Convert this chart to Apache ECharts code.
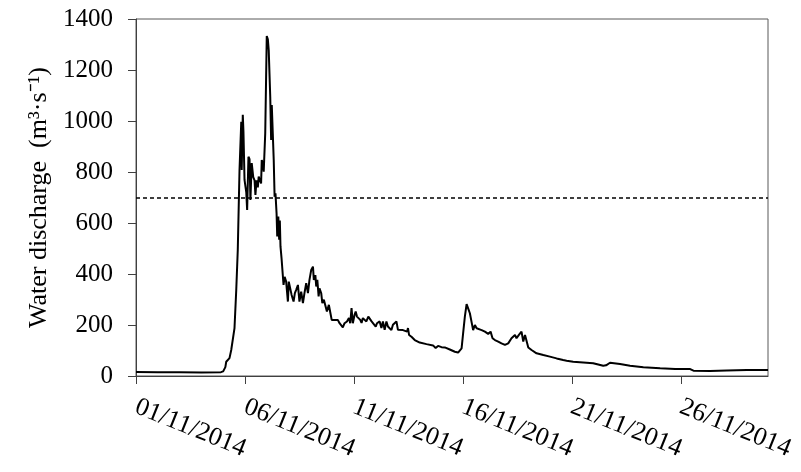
<!DOCTYPE html>
<html>
<head>
<meta charset="utf-8">
<script src="https://cdn.jsdelivr.net/npm/echarts@6/dist/echarts.min.js"></script>
<style>
  html, body { margin: 0; padding: 0; background: #fff; }
  #chart { width: 801px; height: 472px; }
</style>
</head>
<body>
<div id="chart"></div>
<script>
// Time in days since 01/11/2014 00:00
const dayOffsets = [
  0, 1, 2, 3, 3.9, 4.0, 4.1, 4.14, 4.29, 4.37, 4.52, 4.6, 4.67, 4.75, 4.83, 4.85, 4.9, 4.93, 4.98,
  5.06, 5.1, 5.16, 5.21, 5.25, 5.31, 5.38, 5.44, 5.48, 5.53, 5.59, 5.63, 5.71, 5.74, 5.77, 5.82, 5.86, 5.93,
  6.0, 6.05, 6.09, 6.16, 6.2, 6.23, 6.28, 6.32, 6.36, 6.4, 6.45, 6.48, 6.53, 6.57, 6.6, 6.63, 6.68, 6.77, 6.82, 6.89, 6.97,
  7.01, 7.08, 7.14, 7.23, 7.29, 7.35, 7.43, 7.5, 7.58, 7.66, 7.73, 7.81, 7.89, 7.96,
  8.04, 8.12, 8.16, 8.23, 8.27, 8.32, 8.38, 8.42, 8.5, 8.55, 8.62, 8.7, 8.76, 8.85, 8.92, 8.98,
  9.11, 9.19, 9.26, 9.34, 9.42, 9.49, 9.57, 9.68, 9.77, 9.83, 9.89, 9.95,
  10.03, 10.08, 10.14, 10.23, 10.29, 10.35, 10.41, 10.49, 10.57, 10.66, 10.75, 10.81, 10.9,
  11.0, 11.06, 11.18, 11.26, 11.33, 11.41, 11.49, 11.56, 11.64, 11.72, 11.79, 11.87, 11.95,
  12.02, 12.1, 12.25, 12.33, 12.44, 12.48, 12.53, 12.64, 12.79,
  13.02, 13.33, 13.63, 13.7, 13.75, 13.86, 14.02, 14.17, 14.4, 14.63, 14.78, 14.86, 14.94,
  15.01, 15.09, 15.17, 15.24, 15.32, 15.39, 15.47, 15.55, 15.63, 15.7, 15.86,
  16.01, 16.16, 16.27, 16.36, 16.47, 16.62, 16.77, 16.93,
  17.08, 17.23, 17.39, 17.46, 17.57, 17.69, 17.77, 17.85, 17.92,
  18.0, 18.15, 18.38, 18.69, 18.99, 19.3, 19.6, 19.76,
  20.06, 20.37, 20.98, 21.44, 21.57, 21.75, 22.21, 22.67, 23.28, 24.05, 24.74,
  25.43, 25.52, 25.58, 26.34, 27.11, 28.03, 29.0
];

// Water discharge (m3/s)
const discharge = [
  16, 15, 15, 14, 15, 18, 35, 56, 70, 102, 188, 337, 494, 808, 997, 808, 1024, 960, 769,
  720, 651, 860, 850, 690, 835, 780, 767, 710, 767, 740, 782, 782, 755, 847, 835, 801, 952,
  1333, 1320, 1278, 1095, 926, 1063, 1057, 847, 703, 716, 638, 547, 625, 534, 610, 508, 460, 357, 389, 370, 292,
  370, 377, 318, 292, 325, 338, 357, 292, 331, 286, 325, 364, 325, 377,
  416, 429, 377, 396, 351, 377, 312, 344, 324, 286, 299, 299, 253, 279, 247, 220,
  220, 214, 220, 207, 200, 191, 207, 214, 227, 207, 266, 207,
  240, 253, 233, 240, 220, 208, 227, 220, 214, 233, 227, 214, 207,
  194, 207, 214, 188, 214, 181, 214, 194, 201, 180, 201, 194, 214,
  181, 188, 180, 174, 174, 188, 161, 154, 141,
  131, 125, 120, 125, 110, 118, 113, 112, 104, 95, 92, 94, 108,
  167, 233, 282, 265, 246, 240, 180, 200, 187, 193, 180,
  174, 165, 174, 148, 141, 135, 128, 122,
  128, 148, 161, 148, 161, 174, 135, 161, 155,
  112, 102, 89, 82, 76, 69, 63, 60,
  56, 54, 50, 40, 42, 52, 47, 40, 34, 30, 27,
  27, 27, 21, 20, 22, 24, 24
];

const dateLabels = ['01/11/2014', '06/11/2014', '11/11/2014', '16/11/2014', '21/11/2014', '26/11/2014'];
const yTicks = [0, 200, 400, 600, 800, 1000, 1200, 1400];
const threshold = 700;

const seriesData = dayOffsets.map((d, i) => [d, discharge[i]]);

const FONT = '"Liberation Serif", "Times New Roman", serif';
const chart = echarts.init(document.getElementById('chart'), null, { renderer: 'canvas' });

chart.setOption({
  animation: false,
  backgroundColor: '#fff',
  grid: {
    left: 136, right: 33, top: 19, bottom: 96,
    show: true, borderColor: '#595959', borderWidth: 1,
    containLabel: false, outerBoundsMode: 'none'
  },
  xAxis: {
    type: 'value',
    min: 0, max: 29, interval: 5,
    splitLine: { show: false },
    axisLine: { lineStyle: { color: '#404040', width: 1 } },
    axisTick: { length: 8, lineStyle: { color: '#404040' } },
    axisLabel: {
      rotate: -22,
      margin: 30,
      color: '#000',
      fontFamily: FONT,
      fontSize: 26,
      showMaxLabel: false,
      formatter: v => (v % 5 === 0 && dateLabels[v / 5]) ? dateLabels[v / 5] : ''
    }
  },
  yAxis: {
    type: 'value',
    min: yTicks[0], max: yTicks[yTicks.length - 1], interval: 200,
    name: 'Water discharge  (m³·s⁻¹)',
    nameLocation: 'middle',
    nameGap: 78,
    nameTextStyle: { color: '#000', fontFamily: FONT, fontSize: 26 },
    splitLine: { show: false },
    axisLine: { show: true, lineStyle: { color: '#404040', width: 1 } },
    axisTick: { show: true, length: 8, lineStyle: { color: '#404040' } },
    axisLabel: {
      margin: 23, color: '#000', fontFamily: FONT, fontSize: 25,
      formatter: v => String(v)
    }
  },
  series: [{
    type: 'line',
    data: seriesData,
    showSymbol: false,
    lineStyle: { color: '#000', width: 2 },
    markLine: {
      silent: true,
      symbol: 'none',
      label: { show: false },
      lineStyle: { color: '#000', type: [4, 3], width: 1.5 },
      data: [{ yAxis: threshold }]
    }
  }]
});
</script>
</body>
</html>
